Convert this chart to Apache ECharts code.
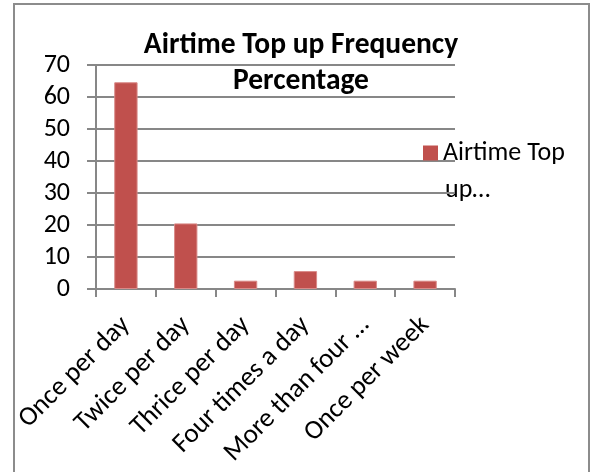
<!DOCTYPE html>
<html>
<head>
<meta charset="utf-8">
<script src="https://cdn.jsdelivr.net/npm/echarts@6/dist/echarts.min.js"></script>
<style>
  html, body { margin: 0; padding: 0; background: #fff; }
  #chart { width: 592px; height: 472px; }
</style>
</head>
<body>
<div id="chart"></div>
<script>
// data
var categories = ['Once per day', 'Twice per day', 'Thrice per day', 'Four times a day', 'More than four times a day', 'Once per week'];
var values = [64.6, 20.5, 2.6, 5.6, 2.6, 2.6];
var seriesName = 'Airtime Top up Frequency Percentage';
var yMin = 0, yMax = 70, yStep = 10;

var font = 'Carlito, "Liberation Sans", sans-serif';
var axisGray = '#878787';

var myChart = echarts.init(document.getElementById('chart'));

var option = {
    backgroundColor: '#fff',
    animation: false,
    title: {
        text: 'Airtime Top up Frequency\nPercentage',
        left: 301,
        top: 28,
        padding: 0,
        textAlign: 'center',
        textStyle: {
            fontFamily: font,
            fontSize: 29.5,
            fontWeight: 'bold',
            color: '#000',
            lineHeight: 36
        }
    },
    // the legend text is cut to "Airtime Top / up…" like in the reference
    legend: {
        left: 423,
        top: 140,
        padding: 0,
        itemWidth: 15,
        itemHeight: 15,
        icon: 'rect',
        itemStyle: { borderWidth: 0 },
        formatter: function () { return 'Airtime Top'; },
        textStyle: {
            fontFamily: font,
            fontSize: 26,
            color: '#000'
        },
        data: [seriesName]
    },
    graphic: [{
        type: 'rect',
        shape: { x: 14, y: 4, width: 575, height: 480 },
        style: { fill: 'none', stroke: '#8c8c8c', lineWidth: 2 },
        silent: true
    }, {
        type: 'text',
        left: 445,
        top: 177,
        style: { text: 'up\u2026', font: '26px ' + font, fill: '#000' },
        silent: true
    }],
    grid: {
        left: 96,
        right: 137,
        top: 65,
        bottom: 183,
        containLabel: false
    },
    xAxis: {
        type: 'category',
        data: categories,
        axisLine: { show: true, lineStyle: { color: axisGray, width: 2 } },
        axisTick: { show: true, length: 8, lineStyle: { color: axisGray, width: 2 } },
        axisLabel: {
            interval: 0,
            rotate: 45,
            margin: 32,
            fontFamily: font,
            fontSize: 27,
            color: '#000',
            formatter: function (v) {
                return v === 'More than four times a day' ? 'More than four \u2026' : v;
            }
        },
        splitLine: { show: false }
    },
    yAxis: {
        type: 'value',
        min: yMin,
        max: yMax,
        interval: yStep,
        axisLine: { show: true, lineStyle: { color: axisGray, width: 2 } },
        axisTick: { show: true, length: 9, lineStyle: { color: axisGray, width: 2 } },
        axisLabel: {
            margin: 26,
            fontFamily: font,
            fontSize: 26,
            color: '#000'
        },
        splitLine: { show: true, lineStyle: { color: axisGray, width: 2 } }
    },
    series: [{
        name: seriesName,
        type: 'bar',
        data: values,
        barWidth: '39%',
        itemStyle: {
            color: '#C0504D',
            borderColor: '#D98A88',
            borderWidth: 1
        }
    }]
};

myChart.setOption(option);
</script>
</body>
</html>
